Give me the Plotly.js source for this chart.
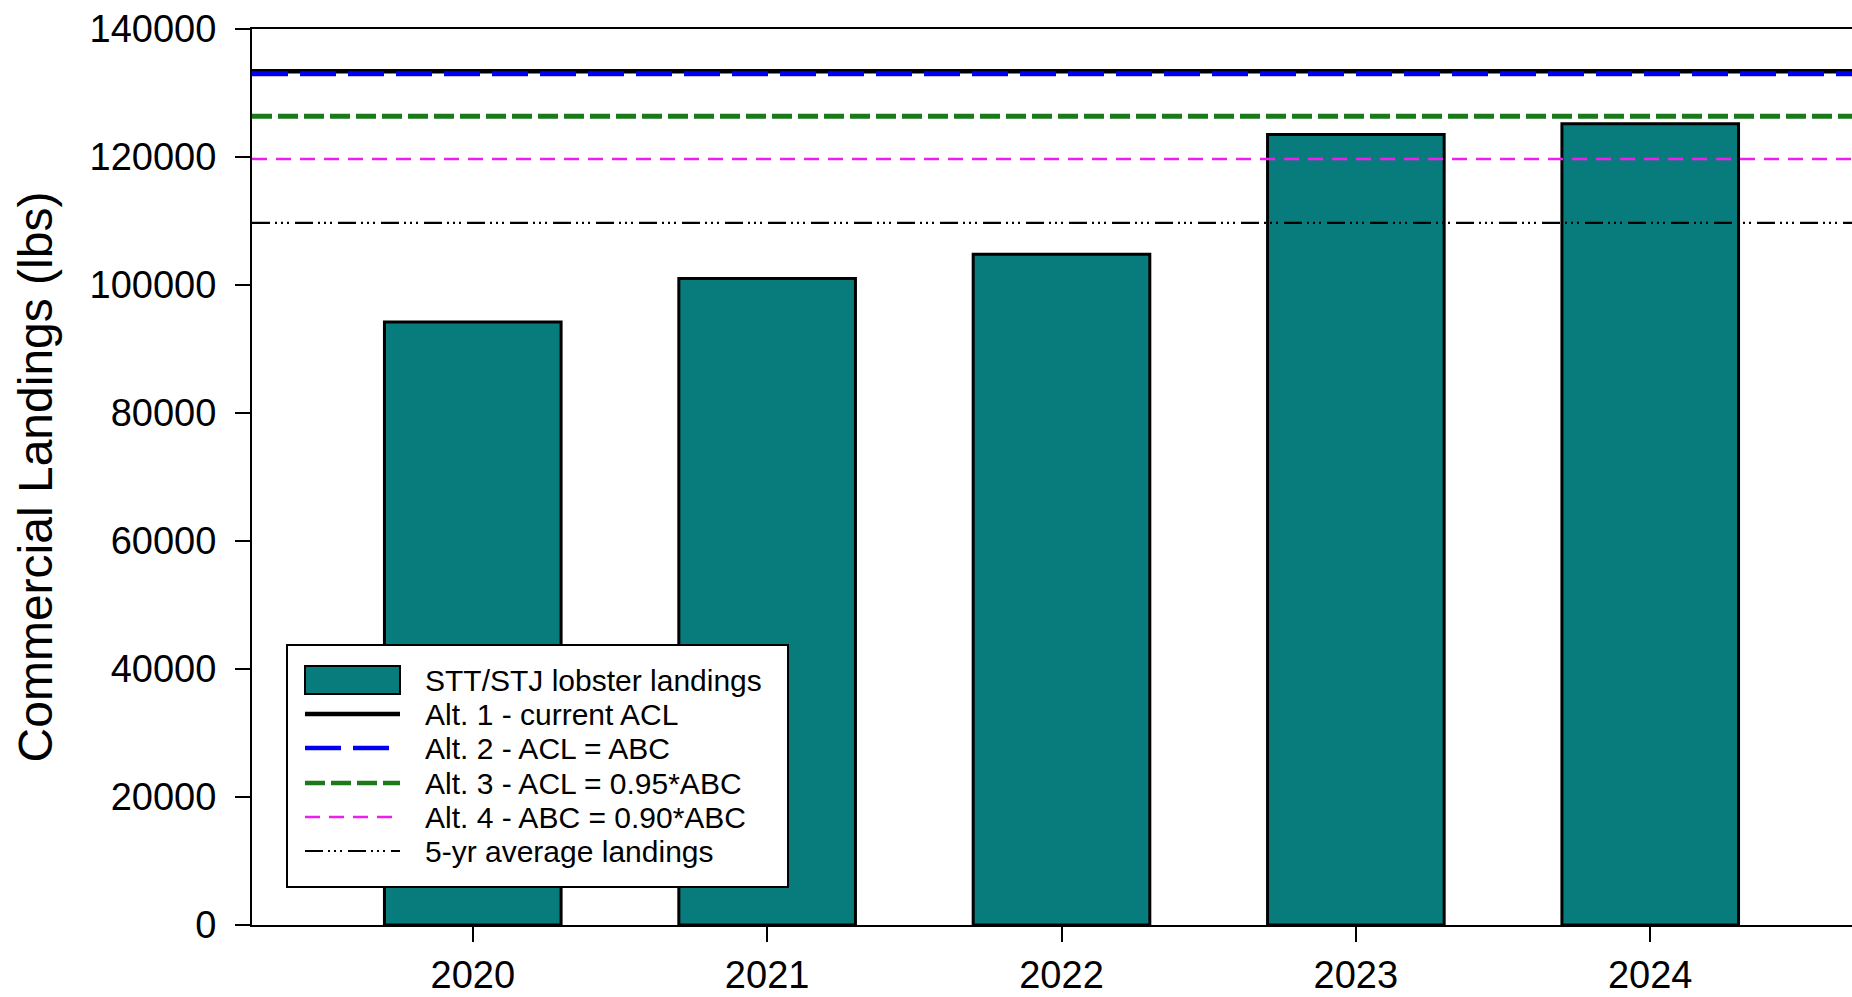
<!DOCTYPE html>
<html>
<head>
<meta charset="utf-8">
<script src="https://cdn.plot.ly/plotly-3.0.1.min.js"></script>
<style>
  html, body { margin: 0; padding: 0; background: #ffffff; overflow: hidden; }
  #chart { width: 1880px; height: 997px; }
</style>
</head>
<body>
<div id="chart"></div>
<script>
// ---------------- data ----------------
var years = ['2020', '2021', '2022', '2023', '2024'];
var landings = [94200, 101000, 104800, 123500, 125200];
var barName = 'STT/STJ lobster landings';

var refNames = [
  'Alt. 1 - current ACL',
  'Alt. 2 - ACL = ABC',
  'Alt. 3 - ACL = 0.95*ABC',
  'Alt. 4 - ABC = 0.90*ABC',
  '5-yr average landings'
];
var refValues = [133400, 133000, 126350, 119700, 109700];

var yTickVals = [0, 20000, 40000, 60000, 80000, 100000, 120000, 140000];
var yTickText = ['0', '20000', '40000', '60000', '80000', '100000', '120000', '140000'];
var yTitle = 'Commercial Landings (lbs)';

// ---------------- styles ----------------
var FONT = 'Liberation Sans, Arial, Helvetica, sans-serif';
var TEAL = '#087C7C';
var refStyles = [
  { color: '#000000', width: 4.5, dash: 'solid' },
  { color: '#0000F0', width: 5, dash: '36px,12px' },
  { color: '#1A7A1A', width: 5, dash: '20px,6px' },
  { color: '#EE1EEE', width: 2.5, dash: '15px,9px' },
  { color: '#000000', width: 2.2, dash: '18px,5px,2px,4px,2px,4px,2px,6px' }
];

var W = 1880, H = 997;
var M = { l: 252, r: 9, t: 29, b: 72 };
var plotW = W - M.l - M.r;
var plotH = H - M.t - M.b;
function px(xp) { return (xp - M.l) / plotW; }
function py(yp) { return (M.t + plotH - yp) / plotH; }

// ---------------- traces ----------------
var traces = [];
traces.push({
  type: 'bar',
  x: years,
  y: landings,
  name: barName,
  width: 0.6,
  marker: { color: TEAL, line: { color: '#000000', width: 3 } },
  xaxis: 'x', yaxis: 'y',
  hoverinfo: 'x+y'
});
for (var i = 0; i < refNames.length; i++) {
  traces.push({
    type: 'scatter',
    mode: 'lines',
    x: [0, 1],
    y: [refValues[i], refValues[i]],
    name: refNames[i],
    line: { color: refStyles[i].color, width: refStyles[i].width, dash: refStyles[i].dash },
    xaxis: 'x2', yaxis: 'y',
    cliponaxis: true
  });
}

// ---------------- custom legend (shapes + annotations) ----------------
var shapes = [];
var annotations = [];
var legBox = { x0: 287, x1: 788, y0: 645, y1: 887 };
shapes.push({
  type: 'rect', xref: 'paper', yref: 'paper', layer: 'above',
  x0: px(legBox.x0), x1: px(legBox.x1), y0: py(legBox.y1), y1: py(legBox.y0),
  fillcolor: '#ffffff', line: { color: '#000000', width: 2 }
});
var rowY = [680, 714, 748, 783, 817, 851];
var symX0 = 305, symX1 = 400, textX = 423;
// bar swatch
shapes.push({
  type: 'rect', xref: 'paper', yref: 'paper', layer: 'above',
  x0: px(symX0), x1: px(symX1), y0: py(rowY[0] + 14), y1: py(rowY[0] - 14),
  fillcolor: TEAL, line: { color: '#000000', width: 2 }
});
var legNames = [barName].concat(refNames);
for (var j = 0; j < refNames.length; j++) {
  var st = refStyles[j];
  shapes.push({
    type: 'line', xref: 'paper', yref: 'paper', layer: 'above',
    x0: px(symX0), x1: px(symX1), y0: py(rowY[j + 1]), y1: py(rowY[j + 1]),
    line: { color: st.color, width: Math.min(st.width, 4.5), dash: st.dash }
  });
}
for (var k = 0; k < legNames.length; k++) {
  annotations.push({
    xref: 'paper', yref: 'paper',
    x: px(textX), y: py(rowY[k]),
    xanchor: 'left', yanchor: 'middle',
    text: legNames[k], showarrow: false,
    font: { family: FONT, size: 30, color: '#000000' }
  });
}

var layout = {
  width: W, height: H,
  margin: M,
  paper_bgcolor: '#ffffff',
  plot_bgcolor: '#ffffff',
  showlegend: false,
  bargap: 0.4,
  font: { family: FONT, color: '#000000' },
  xaxis: {
    type: 'category',
    range: [-0.75, 4.75],
    showgrid: false, zeroline: false,
    showline: true, linecolor: '#000000', linewidth: 2,
    mirror: true,
    ticks: 'outside', ticklen: 15, tickwidth: 2, tickcolor: '#000000',
    tickfont: { family: FONT, size: 38, color: '#000000' },
    ticklabelstandoff: 0,
    fixedrange: true
  },
  xaxis2: {
    type: 'linear', range: [0, 1], overlaying: 'x', visible: false, fixedrange: true
  },
  yaxis: {
    range: [0, 140000],
    tickmode: 'array', tickvals: yTickVals, ticktext: yTickText,
    showgrid: false, zeroline: false,
    showline: true, linecolor: '#000000', linewidth: 2,
    mirror: true,
    ticks: 'outside', ticklen: 15, tickwidth: 2, tickcolor: '#000000',
    tickfont: { family: FONT, size: 38, color: '#000000' },
    ticklabelstandoff: 11,
    title: { text: yTitle, font: { family: FONT, size: 48, color: '#000000' }, standoff: 22 },
    fixedrange: true
  },
  shapes: shapes,
  annotations: annotations
};

Plotly.newPlot('chart', traces, layout, { displayModeBar: false, responsive: false });
</script>
</body>
</html>
